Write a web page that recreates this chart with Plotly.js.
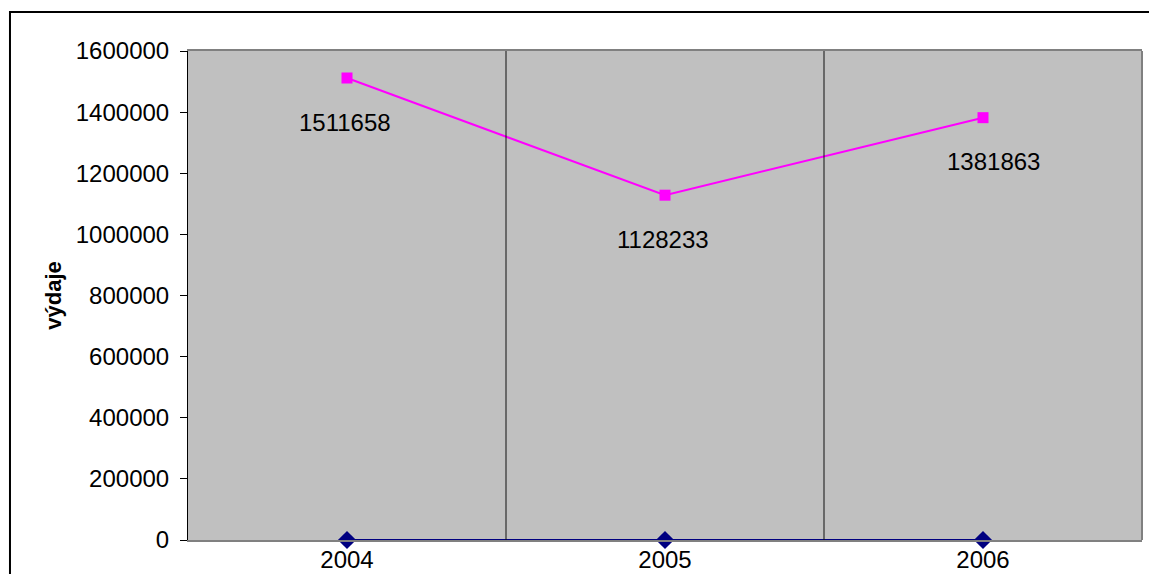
<!DOCTYPE html>
<html>
<head>
<meta charset="utf-8">
<script src="https://cdn.plot.ly/plotly-3.0.1.min.js"></script>
<style>html,body{margin:0;padding:0;background:#fff;}#chart{width:1149px;height:574px;}</style>
</head>
<body>
<div id="chart"></div>
<script>
const years = ['2004', '2005', '2006'];
const vydaje = [1511658, 1128233, 1381863];
const druha = [0, 0, 0];
const yTicks = [0, 200000, 400000, 600000, 800000, 1000000, 1200000, 1400000, 1600000];

const font = 'Liberation Sans, Arial, sans-serif';

const traces = [
  {
    x: years, y: druha, type: 'scatter', mode: 'lines+markers',
    line: {color: '#000080', width: 2},
    marker: {symbol: 'diamond', size: 14, color: '#000080'},
    cliponaxis: false, hoverinfo: 'skip'
  },
  {
    x: years, y: vydaje, type: 'scatter', mode: 'lines+markers',
    line: {color: '#FF00FF', width: 2},
    marker: {symbol: 'square', size: 11, color: '#FF00FF'},
    cliponaxis: false, hoverinfo: 'skip'
  }
];

const annotations = [];
for (let i = 0; i < vydaje.length; i++) {
  annotations.push({
    x: i, y: vydaje[i], xref: 'x', yref: 'y', text: String(vydaje[i]),
    showarrow: false, yshift: -44, xshift: (i === 2 ? 10 : -2),
    font: {family: font, size: 24, color: '#000000'}
  });
}

const shapes = [
  {type: 'line', xref: 'x', yref: 'paper', x0: 0.5, x1: 0.5, y0: 0, y1: 1, line: {color: '#111', width: 1}},
  {type: 'line', xref: 'x', yref: 'paper', x0: 1.5, x1: 1.5, y0: 0, y1: 1, line: {color: '#111', width: 1}},
  {type: 'line', xref: 'paper', yref: 'paper', x0: 1, x1: 1, y0: 0, y1: 1, line: {color: '#808080', width: 2}},
  {type: 'rect', xref: 'paper', yref: 'paper', x0: -0.1866, x1: 1.1, y0: -0.2, y1: 1.0798, line: {color: '#000', width: 2}, fillcolor: 'rgba(0,0,0,0)', layer: 'above'}
];

const layout = {
  width: 1149, height: 574,
  margin: {l: 188, r: 7, t: 51, b: 34},
  paper_bgcolor: '#fff', plot_bgcolor: '#C0C0C0',
  showlegend: false,
  font: {family: font, size: 24, color: '#000'},
  xaxis: {
    type: 'category', range: [-0.5, 2.5],
    showgrid: false, zeroline: false,
    showline: true, linecolor: '#808080', linewidth: 2, mirror: true,
    ticks: '', ticklabelstandoff: -3,
    tickfont: {family: font, size: 24, color: '#000'}
  },
  yaxis: {
    range: [0, 1600000], tickvals: yTicks, ticktext: yTicks.map(String),
    showgrid: false, zeroline: false,
    showline: true, linecolor: '#000', linewidth: 1,
    ticks: 'outside', ticklen: 7, tickcolor: '#000',
    ticklabelstandoff: 6,
    tickfont: {family: font, size: 24, color: '#000'},
    title: {text: '<b>výdaje</b>', font: {family: font, size: 22, color: '#000'}, standoff: 8}
  },
  annotations: annotations,
  shapes: shapes
};

Plotly.newPlot('chart', traces, layout, {staticPlot: true, displayModeBar: false});
</script>
</body>
</html>
